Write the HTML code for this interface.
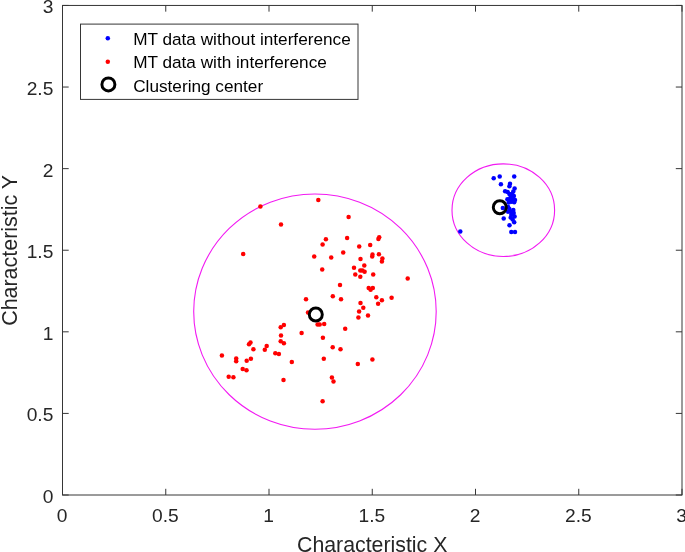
<!DOCTYPE html>
<html><head><meta charset="utf-8"><title>Clustering</title>
<style>
html,body{margin:0;padding:0;background:#fff;}
svg{display:block;}
text{font-family:"Liberation Sans",Arial,sans-serif;fill:#262626;}
.t{font-size:19.2px;}
.l{font-size:17.2px;fill:#000;}
.a{font-size:21.3px;}
</style></head><body>
<svg width="685" height="552" viewBox="0 0 685 552">
<rect x="0" y="0" width="685" height="552" fill="#fff"/>
<g fill="none" stroke="#f21af2" stroke-width="1.1">
<ellipse cx="314.95" cy="311.6" rx="121.25" ry="117.6"/>
<ellipse cx="503.3" cy="210.2" rx="51.3" ry="46.3"/>
</g>
<g fill="#0000ff"><circle cx="493.7" cy="178.2" r="2.25"/><circle cx="499.7" cy="176.5" r="2.25"/><circle cx="514.2" cy="176.6" r="2.25"/><circle cx="500.9" cy="184.2" r="2.25"/><circle cx="510" cy="183.7" r="2.25"/><circle cx="509.4" cy="186.3" r="2.25"/><circle cx="514.6" cy="188.6" r="2.25"/><circle cx="505.1" cy="191.2" r="2.25"/><circle cx="507.7" cy="191.9" r="2.25"/><circle cx="513.3" cy="191.5" r="2.25"/><circle cx="509.4" cy="194.1" r="2.25"/><circle cx="512" cy="194.1" r="2.25"/><circle cx="510.7" cy="196.1" r="2.25"/><circle cx="513.9" cy="196.1" r="2.25"/><circle cx="507.4" cy="199.3" r="2.25"/><circle cx="510" cy="198.7" r="2.25"/><circle cx="512.6" cy="199.3" r="2.25"/><circle cx="515" cy="200" r="2.25"/><circle cx="511.3" cy="201.7" r="2.25"/><circle cx="514.2" cy="202.2" r="2.25"/><circle cx="508.7" cy="202.6" r="2.25"/><circle cx="502.8" cy="207.9" r="2.25"/><circle cx="508.1" cy="206.9" r="2.25"/><circle cx="509.4" cy="209.1" r="2.25"/><circle cx="513.3" cy="210" r="2.25"/><circle cx="511.3" cy="211.7" r="2.25"/><circle cx="508.1" cy="211.7" r="2.25"/><circle cx="513.7" cy="213" r="2.25"/><circle cx="511.3" cy="214.7" r="2.25"/><circle cx="514.6" cy="216.6" r="2.25"/><circle cx="510.7" cy="217.6" r="2.25"/><circle cx="503.7" cy="218.4" r="2.25"/><circle cx="512.6" cy="219.6" r="2.25"/><circle cx="514.2" cy="222.2" r="2.25"/><circle cx="509.5" cy="225.3" r="2.25"/><circle cx="511.3" cy="232.1" r="2.25"/><circle cx="515" cy="232.1" r="2.25"/><circle cx="460.3" cy="231.5" r="2.25"/></g>
<g fill="#ff0000"><circle cx="260.4" cy="206.4" r="2.25"/><circle cx="318.3" cy="199.9" r="2.25"/><circle cx="281" cy="224.4" r="2.25"/><circle cx="348.6" cy="217.1" r="2.25"/><circle cx="243.2" cy="254.1" r="2.25"/><circle cx="314.2" cy="256.4" r="2.25"/><circle cx="325.9" cy="239.3" r="2.25"/><circle cx="322.6" cy="244.4" r="2.25"/><circle cx="347.1" cy="238" r="2.25"/><circle cx="379.2" cy="237.3" r="2.25"/><circle cx="378.4" cy="238.9" r="2.25"/><circle cx="359.2" cy="246.5" r="2.25"/><circle cx="370.2" cy="245.1" r="2.25"/><circle cx="343.2" cy="252.4" r="2.25"/><circle cx="331.2" cy="257.6" r="2.25"/><circle cx="372.5" cy="254.6" r="2.25"/><circle cx="372.2" cy="256.5" r="2.25"/><circle cx="378.9" cy="254.3" r="2.25"/><circle cx="382.4" cy="258.6" r="2.25"/><circle cx="381.9" cy="261.5" r="2.25"/><circle cx="360.5" cy="259" r="2.25"/><circle cx="364.3" cy="265.4" r="2.25"/><circle cx="354" cy="267.8" r="2.25"/><circle cx="322.2" cy="269.4" r="2.25"/><circle cx="360.3" cy="270.4" r="2.25"/><circle cx="362.4" cy="270.4" r="2.25"/><circle cx="364.6" cy="271.7" r="2.25"/><circle cx="355.3" cy="274.6" r="2.25"/><circle cx="360.3" cy="276.7" r="2.25"/><circle cx="373.2" cy="274.6" r="2.25"/><circle cx="407.7" cy="278.4" r="2.25"/><circle cx="340" cy="284.9" r="2.25"/><circle cx="368.7" cy="287.9" r="2.25"/><circle cx="372.8" cy="288.1" r="2.25"/><circle cx="370.6" cy="289.8" r="2.25"/><circle cx="332.8" cy="296.2" r="2.25"/><circle cx="341" cy="299.2" r="2.25"/><circle cx="360.5" cy="302.9" r="2.25"/><circle cx="376.3" cy="297.2" r="2.25"/><circle cx="381.9" cy="300.3" r="2.25"/><circle cx="378.1" cy="303.8" r="2.25"/><circle cx="391.6" cy="297.7" r="2.25"/><circle cx="363.3" cy="307.8" r="2.25"/><circle cx="359.1" cy="311.5" r="2.25"/><circle cx="368" cy="315.4" r="2.25"/><circle cx="358.4" cy="317.6" r="2.25"/><circle cx="317.6" cy="324.5" r="2.25"/><circle cx="319.7" cy="324.5" r="2.25"/><circle cx="324.2" cy="323.9" r="2.25"/><circle cx="345.2" cy="328.7" r="2.25"/><circle cx="322.9" cy="337.8" r="2.25"/><circle cx="332.7" cy="347.3" r="2.25"/><circle cx="340.5" cy="349.2" r="2.25"/><circle cx="323.8" cy="358.8" r="2.25"/><circle cx="372.4" cy="359.5" r="2.25"/><circle cx="357.8" cy="363.9" r="2.25"/><circle cx="306" cy="299.3" r="2.25"/><circle cx="308.0" cy="312.6" r="2.25"/><circle cx="283.9" cy="324.9" r="2.25"/><circle cx="280.7" cy="327.3" r="2.25"/><circle cx="301.6" cy="333.1" r="2.25"/><circle cx="281" cy="335.4" r="2.25"/><circle cx="280.7" cy="341.3" r="2.25"/><circle cx="283.9" cy="343.3" r="2.25"/><circle cx="250.5" cy="342.6" r="2.25"/><circle cx="249" cy="344.3" r="2.25"/><circle cx="253.4" cy="349.3" r="2.25"/><circle cx="266.7" cy="345.9" r="2.25"/><circle cx="264.8" cy="349.7" r="2.25"/><circle cx="275.3" cy="353.2" r="2.25"/><circle cx="278.9" cy="354.1" r="2.25"/><circle cx="221.9" cy="355.6" r="2.25"/><circle cx="236.2" cy="358.6" r="2.25"/><circle cx="236.2" cy="361.3" r="2.25"/><circle cx="250.9" cy="358.8" r="2.25"/><circle cx="246.7" cy="360.7" r="2.25"/><circle cx="291.8" cy="362" r="2.25"/><circle cx="242.7" cy="368.9" r="2.25"/><circle cx="246.5" cy="370.3" r="2.25"/><circle cx="228.7" cy="376.7" r="2.25"/><circle cx="233.4" cy="377.3" r="2.25"/><circle cx="283.5" cy="379.9" r="2.25"/><circle cx="331.9" cy="377.6" r="2.25"/><circle cx="333.5" cy="381.4" r="2.25"/><circle cx="322.6" cy="401.2" r="2.25"/></g>
<g fill="none" stroke="#000" stroke-width="2.95"><circle cx="499.8" cy="207.25" r="6.5"/><circle cx="315.8" cy="314.5" r="6.5"/></g>
<g stroke="#363636" stroke-width="1" fill="none">
<rect x="62.5" y="5.45" width="619.5" height="489.55"/>
<path d="M62.50 495.0V488.8M62.50 5.45V11.65M62.5 495.00H68.7M682.0 495.00H675.8M165.75 495.0V488.8M165.75 5.45V11.65M62.5 413.41H68.7M682.0 413.41H675.8M269.00 495.0V488.8M269.00 5.45V11.65M62.5 331.82H68.7M682.0 331.82H675.8M372.25 495.0V488.8M372.25 5.45V11.65M62.5 250.22H68.7M682.0 250.22H675.8M475.50 495.0V488.8M475.50 5.45V11.65M62.5 168.63H68.7M682.0 168.63H675.8M578.75 495.0V488.8M578.75 5.45V11.65M62.5 87.04H68.7M682.0 87.04H675.8M682.00 495.0V488.8M682.00 5.45V11.65M62.5 5.45H68.7M682.0 5.45H675.8"/></g>
<text class="t" x="62.20" y="522.4" text-anchor="middle">0</text>
<text class="t" x="53.4" y="502.90" text-anchor="end">0</text>
<text class="t" x="165.45" y="522.4" text-anchor="middle">0.5</text>
<text class="t" x="53.4" y="421.31" text-anchor="end">0.5</text>
<text class="t" x="268.70" y="522.4" text-anchor="middle">1</text>
<text class="t" x="53.4" y="339.72" text-anchor="end">1</text>
<text class="t" x="371.95" y="522.4" text-anchor="middle">1.5</text>
<text class="t" x="53.4" y="258.12" text-anchor="end">1.5</text>
<text class="t" x="475.20" y="522.4" text-anchor="middle">2</text>
<text class="t" x="53.4" y="176.53" text-anchor="end">2</text>
<text class="t" x="578.45" y="522.4" text-anchor="middle">2.5</text>
<text class="t" x="53.4" y="94.94" text-anchor="end">2.5</text>
<text class="t" x="681.70" y="522.4" text-anchor="middle">3</text>
<text class="t" x="53.4" y="13.35" text-anchor="end">3</text>
<text class="a" x="372.2" y="551.8" text-anchor="middle">Characteristic X</text>
<text class="a" style="font-size:21.45px" transform="translate(16.5,250.4) rotate(-90)" text-anchor="middle">Characteristic Y</text>
<rect x="80.5" y="24.1" width="277.5" height="75.3" fill="#fff" stroke="#363636" stroke-width="1"/>
<circle cx="107.8" cy="38.3" r="2.25" fill="#0000ff"/>
<circle cx="107.8" cy="61.7" r="2.25" fill="#ff0000"/>
<circle cx="108.4" cy="84.4" r="6.5" fill="none" stroke="#000" stroke-width="2.95"/>
<text class="l" x="133.2" y="45.2">MT data without interference</text>
<text class="l" x="133.2" y="68.1">MT data with interference</text>
<text class="l" x="133.2" y="92.0">Clustering center</text>
</svg></body></html>
